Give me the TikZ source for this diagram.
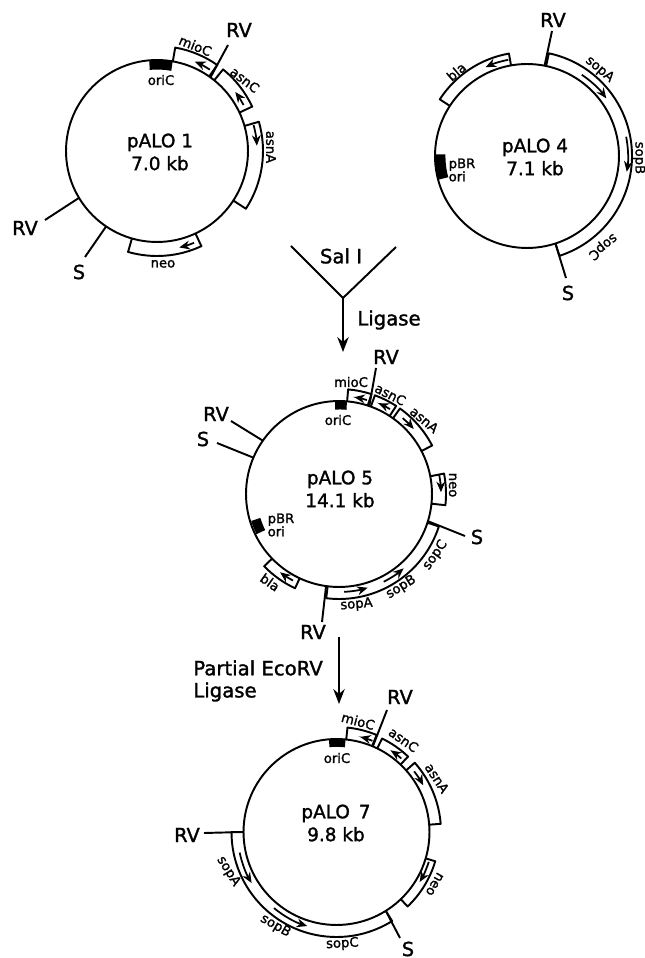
\documentclass[tikz,border=0pt]{standalone}
\usepackage{fontspec}
\setmainfont{DejaVu Sans}[FakeBold=1.5]
\usetikzlibrary{arrows.meta}
\tikzset{
  plasmid/.style={circle,draw,line width=1.1pt,minimum size=#1,inner sep=0pt,outer sep=0pt},
  plasmidname/.style={align=center,inner sep=0pt,font=\fontsize{10.5}{13}\selectfont},
  sitelabel/.style={inner sep=0pt,font=\fontsize{11}{12}\selectfont},
  genelabel/.style={inner sep=0pt,font=\fontsize{7.5}{7.5}\selectfont},
  steplabel/.style={inner sep=0pt,font=\fontsize{11.2}{12}\selectfont},
  siteline/.style={line width=1.1pt},
  genebox/.style={line width=1.1pt,line join=round},
  genearrow/.style={line width=1pt,-{Stealth[length=6pt,width=5pt]}},
  oriblock/.style={line width=#1},
  steparrow/.style={line width=1.1pt,-{Stealth[length=8.5pt,width=6.5pt]}}
}
\newcommand{\genebox}[4]{\draw[genebox] (#1:#3) -- (#1:#4) arc[start angle=#1,end angle=#2,radius=#4] -- (#2:#3);}
\newcommand{\genearrow}[3]{\draw[genearrow] (#1:#3) arc[start angle=#1,end angle=#2,radius=#3];}
\begin{document}
\begin{tikzpicture}[x=0.02cm,y=0.02cm]
  \useasboundingbox (0,0) rectangle (645,958);
  % pALO 1
  \node[plasmid=3.64cm] (p1) at (157,807) {};
  \node[plasmidname] (p1name) at (160,806) {pALO 1\\7.0 kb};
  \node[genelabel] (p1ori) at (161,878) {oriC};
  \node[sitelabel] (p1rva) at (239,928) {RV};
  \node[sitelabel] (p1rvb) at (25,730) {RV};
  \node[sitelabel] (p1s) at (79,686) {S};
  \coordinate (p1a) at (228,913);
  \coordinate (p1b) at (45,738);
  \coordinate (p1c) at (85,701);
  \draw[siteline] (p1.54)--(p1a);
  \draw[siteline] (p1.211)--(p1b);
  \draw[siteline] (p1.236)--(p1c);
  \begin{scope}[shift={(p1.center)}]
    \draw[oriblock=5.4pt] (95:86.2) arc[start angle=95,end angle=80,radius=86.2];
    \genebox{80}{55}{91}{105}
    \genearrow{57}{67}{97}
    \genebox{51}{25}{91}{105}
    \genearrow{28}{37}{98}
    \genebox{16}{-33}{91}{106}
    \genearrow{15}{3}{100}
    \genebox{254}{295}{91}{105}
    \genearrow{292}{283}{99}
    \node[genelabel,rotate=-22] (p1mioc) at (70:112) {mioC};
    \node[genelabel,rotate=-38] (p1asnc) at (39:113) {asnC};
    \node[genelabel,rotate=-90] (p1asna) at (2:114) {asnA};
    \node[genelabel] (p1neo) at (-87:113) {neo};
  \end{scope}
  % pALO 4
  \node[plasmid=3.68cm] (p4) at (527,802) {};
  \node[plasmidname] (p4name) at (535,801) {pALO 4\\7.1 kb};
  \node[genelabel,align=left] (p4ori) at (462,788) {pBR\\ori};
  \node[sitelabel] (p4rv) at (553,938) {RV};
  \node[sitelabel] (p4s) at (568,665) {S};
  \coordinate (p4a) at (552,927);
  \coordinate (p4b) at (566,680);
  \draw[siteline] (p4.79)--(p4a);
  \draw[siteline] (p4.-72)--(p4b);
  \begin{scope}[shift={(p4.center)}]
    \draw[oriblock=6.2pt] (179:87) arc[start angle=179,end angle=195,radius=87];
    \genebox{78}{-72}{92}{105}
    \genearrow{56}{36}{98}
    \genearrow{11}{-9}{101}
    \genebox{100}{147}{92}{104}
    \genearrow{101}{115}{98}
    \node[genelabel,rotate=-40] (p4sopa) at (50:113) {sopA};
    \node[genelabel,rotate=-90] (p4sopb) at (-1:112) {sopB};
    \node[genelabel,rotate=-141] (p4sopc) at (-50:118) {sopC};
    \node[genelabel,rotate=40] (p4bla) at (130:110) {bla};
  \end{scope}
  % Sal I step
  \coordinate (yl) at (291,712);
  \coordinate (yr) at (396,711);
  \coordinate (yj) at (343,660);
  \coordinate (ya) at (343,606);
  \draw[siteline,line join=round] (yl)--(yj)--(yr);
  \draw[steparrow] (yj)--(ya);
  \node[steplabel] (sal) at (341,702) {Sal I};
  \node[steplabel] (lig) at (389,638) {Ligase};
  % pALO 5
  \node[plasmid=3.72cm] (p5) at (339,464) {};
  \node[plasmidname] (p5name) at (340,469) {pALO 5\\14.1 kb};
  \node[genelabel] (p5ori) at (338,538) {oriC};
  \node[genelabel,align=left] (p5pbr) at (281,433) {pBR\\ori};
  \node[genelabel] (p5mioc) at (351,576) {mioC};
  \node[sitelabel] (p5rva) at (386,601) {RV};
  \node[sitelabel] (p5rvb) at (216,544) {RV};
  \node[sitelabel] (p5sa) at (203,519) {S};
  \node[sitelabel] (p5sb) at (477,421) {S};
  \node[sitelabel] (p5rvc) at (313,326) {RV};
  \coordinate (p5a) at (376,590);
  \coordinate (p5b) at (231,537);
  \coordinate (p5c) at (217,515);
  \coordinate (p5d) at (465,422);
  \coordinate (p5e) at (322,336);
  \draw[siteline] (p5.71)--(p5a);
  \draw[siteline] (p5.145)--(p5b);
  \draw[siteline] (p5.157)--(p5c);
  \draw[siteline] (p5.-17)--(p5d);
  \draw[siteline] (p5.262)--(p5e);
  \begin{scope}[shift={(p5.center)}]
    \draw[oriblock=4.5pt] (92.5:88.5) arc[start angle=92.5,end angle=85,radius=88.5];
    \draw[oriblock=5.5pt] (197:87) arc[start angle=197,end angle=206,radius=87];
    \genebox{85}{72}{93}{105}
    \genearrow{73.5}{81}{98}
    \genebox{70}{57}{93}{105}
    \genearrow{59}{66.5}{99}
    \genebox{54.5}{27.5}{93}{105}
    \genearrow{50}{41}{99}
    \genebox{11}{-6}{93}{107}
    \genearrow{11}{1}{102}
    \genebox{-18}{-97}{93}{105}
    \genearrow{-87}{-73}{98}
    \genearrow{-63}{-49}{98.5}
    \genebox{224}{245}{93}{104}
    \genearrow{242}{233}{98}
    \node[genelabel,rotate=-27] (p5asnc) at (62.7:112) {asnC};
    \node[genelabel,rotate=-40] (p5asna) at (41:113) {asnA};
    \node[genelabel,rotate=-90] (p5neo) at (4.5:114) {neo};
    \node[genelabel,rotate=5] (p5sopa) at (-81:112) {sopA};
    \node[genelabel,rotate=32] (p5sopb) at (-56.3:112) {sopB};
    \node[genelabel,rotate=55] (p5sopc) at (-32.4:114) {sopC};
    \node[genelabel,rotate=-35] (p5bla) at (232:112) {bla};
  \end{scope}
  % Partial EcoRV step
  \coordinate (la) at (339,321);
  \coordinate (lb) at (339,254);
  \draw[steparrow] (la)--(lb);
  \node[steplabel,anchor=west] (eco) at (193,290) {Partial EcoRV};
  \node[steplabel,anchor=west] (lig2) at (193,266) {Ligase};
  % pALO 7
  \node[plasmid=3.72cm] (p7) at (336.5,126) {};
  \node[plasmidname] (p7name) at (336,135) {pALO~\,7\\9.8 kb};
  \node[genelabel] (p7ori) at (337,200) {oriC};
  \node[sitelabel] (p7rva) at (400,261) {RV};
  \node[sitelabel] (p7s) at (408,9) {S};
  \node[sitelabel] (p7rvb) at (187,123) {RV};
  \coordinate (p7a) at (387,248);
  \coordinate (p7b) at (400,20);
  \coordinate (p7c) at (204,125);
  \draw[siteline] (p7.67)--(p7a);
  \draw[siteline] (p7.-58)--(p7b);
  \draw[siteline] (p7.180)--(p7c);
  \begin{scope}[shift={(p7.center)}]
    \draw[oriblock=4.4pt] (94.7:89) arc[start angle=94.7,end angle=84.4,radius=89];
    \genebox{84}{67.5}{93}{105}
    \genearrow{68.5}{76}{98}
    \genebox{64}{46.5}{93}{104}
    \genearrow{48.6}{56.4}{98}
    \genebox{41.5}{4.5}{93}{104.5}
    \genearrow{38}{28.3}{98.5}
    \genebox{-16.5}{-46.3}{93}{103}
    \genearrow{-18}{-31}{97}
    \genebox{180}{302}{93}{105}
    \genearrow{192}{211}{99}
    \genearrow{230.6}{252.7}{98.5}
    \node[genelabel,rotate=-15] (p7mioc) at (79:113) {mioC};
    \node[genelabel,rotate=-35] (p7asnc) at (54:114) {asnC};
    \node[genelabel,rotate=-57] (p7asna) at (28.2:114) {asnA};
    \node[genelabel,rotate=-120] (p7neo) at (-28:111) {neo};
    \node[genelabel,rotate=-58] (p7sopa) at (200:115) {sopA};
    \node[genelabel,rotate=-30] (p7sopb) at (237:112) {sopB};
    \node[genelabel,rotate=3] (p7sopc) at (-87:112) {sopC};
  \end{scope}
\end{tikzpicture}
\end{document}
